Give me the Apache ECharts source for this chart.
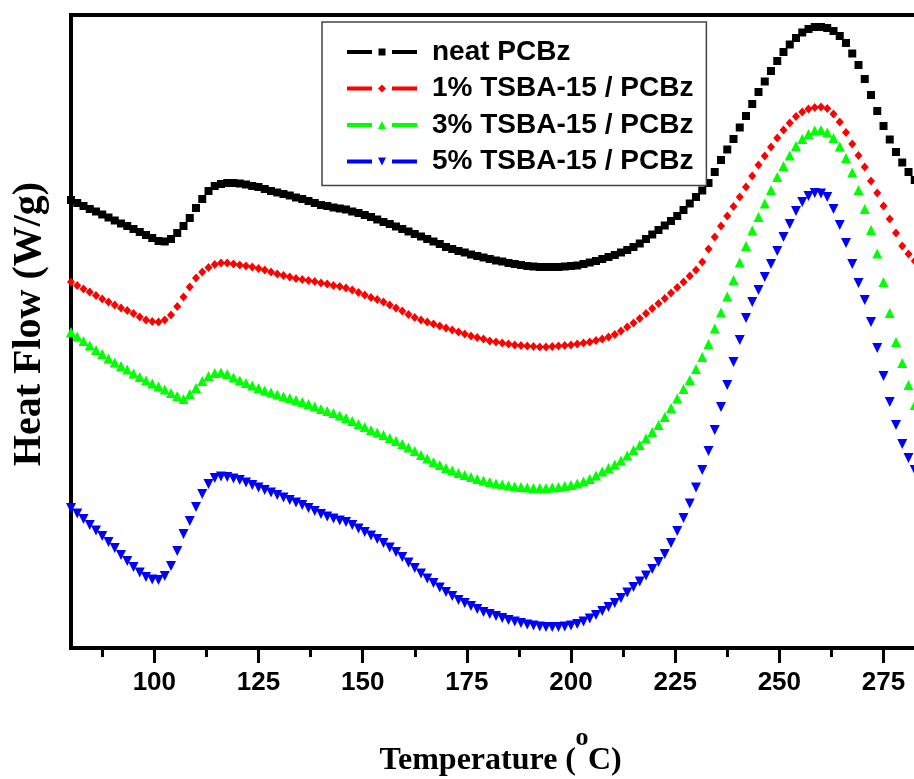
<!DOCTYPE html>
<html>
<head>
<meta charset="utf-8">
<script src="https://cdn.jsdelivr.net/npm/echarts@6/dist/echarts.min.js"></script>
<style>
html,body{margin:0;padding:0;background:#fff;}
#chart{width:914px;height:779px;}
</style>
</head>
<body>
<div id="chart"></div>
<script>
// Temperature (°C) sample points
var temps = [80,81.5,83,84.5,86,87.5,89,90.5,92,93.5,95,96.5,98,99.5,101,102.5,104,105.5,107,108.5,110,111.5,113,114.5,116,117.5,119,120.5,122,123.5,125,126.5,128,129.5,131,132.5,134,135.5,137,138.5,140,141.5,143,144.5,146,147.5,149,150.5,152,153.5,155,156.5,158,159.5,161,162.5,164,165.5,167,168.5,170,171.5,173,174.5,176,177.5,179,180.5,182,183.5,185,186.5,188,189.5,191,192.5,194,195.5,197,198.5,200,201.5,203,204.5,206,207.5,209,210.5,212,213.5,215,216.5,218,219.5,221,222.5,224,225.5,227,228.5,230,231.5,233,234.5,236,237.5,239,240.5,242,243.5,245,246.5,248,249.5,251,252.5,254,255.5,257,258.5,260,261.5,263,264.5,266,267.5,269,270.5,272,273.5,275,276.5,278,279.5,281,282.5];

// Heat flow (arbitrary units, curves offset)
var neatPCBz = [4.48,4.45,4.42,4.39,4.365,4.335,4.305,4.275,4.245,4.22,
4.19,4.16,4.13,4.10,4.07,4.065,4.09,4.15,4.22,4.30,
4.40,4.49,4.57,4.62,4.64,4.65,4.65,4.645,4.635,4.62,
4.61,4.59,4.57,4.555,4.54,4.525,4.505,4.49,4.47,4.45,
4.43,4.42,4.405,4.395,4.385,4.365,4.35,4.33,4.31,4.285,
4.26,4.24,4.215,4.19,4.165,4.14,4.115,4.09,4.065,4.04,
4.01,3.99,3.97,3.955,3.935,3.92,3.905,3.89,3.875,3.865,
3.85,3.84,3.83,3.82,3.815,3.81,3.81,3.81,3.81,3.815,
3.82,3.825,3.84,3.855,3.87,3.89,3.91,3.93,3.955,3.98,
4.01,4.045,4.09,4.135,4.18,4.225,4.27,4.32,4.38,4.445,
4.51,4.575,4.65,4.76,4.88,4.985,5.09,5.205,5.32,5.44,
5.56,5.665,5.77,5.87,5.96,6.035,6.10,6.155,6.19,6.21,
6.21,6.20,6.17,6.12,6.05,5.945,5.83,5.69,5.53,5.37,
5.22,5.085,4.96,4.855,4.76,4.68];

var tsba1 = [3.66,3.625,3.59,3.56,3.525,3.49,3.46,3.43,3.40,3.375,
3.345,3.31,3.28,3.265,3.26,3.28,3.33,3.415,3.51,3.61,
3.70,3.76,3.805,3.835,3.85,3.85,3.84,3.83,3.82,3.81,
3.795,3.78,3.76,3.74,3.725,3.71,3.695,3.685,3.675,3.665,
3.65,3.64,3.625,3.615,3.60,3.58,3.555,3.53,3.505,3.485,
3.46,3.43,3.40,3.37,3.335,3.305,3.28,3.26,3.24,3.22,
3.20,3.18,3.16,3.14,3.12,3.105,3.09,3.07,3.06,3.05,
3.04,3.03,3.025,3.02,3.015,3.01,3.01,3.015,3.02,3.025,
3.03,3.04,3.05,3.06,3.075,3.09,3.11,3.135,3.17,3.21,
3.25,3.295,3.345,3.395,3.445,3.495,3.55,3.605,3.66,3.72,
3.78,3.86,3.99,4.11,4.22,4.32,4.415,4.51,4.61,4.72,
4.83,4.92,5.01,5.10,5.18,5.25,5.315,5.36,5.39,5.405,
5.41,5.395,5.34,5.26,5.155,5.04,4.925,4.81,4.67,4.55,
4.42,4.29,4.15,4.02,3.94,3.87];

var tsba3 = [3.16,3.115,3.07,3.025,2.98,2.94,2.895,2.855,2.82,2.785,
2.745,2.71,2.675,2.645,2.615,2.585,2.55,2.52,2.49,2.54,
2.60,2.67,2.72,2.75,2.755,2.74,2.705,2.675,2.65,2.625,
2.60,2.575,2.555,2.535,2.515,2.50,2.48,2.46,2.44,2.415,
2.39,2.37,2.35,2.325,2.30,2.27,2.24,2.21,2.18,2.155,
2.13,2.10,2.07,2.04,2.005,1.97,1.93,1.895,1.86,1.83,
1.80,1.775,1.75,1.73,1.71,1.69,1.675,1.66,1.645,1.635,
1.625,1.615,1.61,1.605,1.60,1.60,1.60,1.605,1.61,1.62,
1.63,1.645,1.665,1.69,1.725,1.765,1.80,1.835,1.875,1.925,
1.98,2.03,2.095,2.16,2.23,2.31,2.40,2.495,2.59,2.68,
2.79,2.91,3.04,3.195,3.355,3.515,3.68,3.855,4.02,4.175,
4.31,4.445,4.58,4.71,4.82,4.925,5.02,5.09,5.14,5.175,
5.18,5.155,5.10,5.015,4.90,4.755,4.58,4.39,4.18,3.945,
3.66,3.35,3.06,2.85,2.63,2.43];

var tsba5 = [1.40,1.345,1.29,1.23,1.175,1.12,1.06,1.00,0.93,0.87,
0.81,0.755,0.71,0.685,0.68,0.72,0.82,0.97,1.14,1.27,
1.41,1.54,1.64,1.70,1.715,1.71,1.695,1.68,1.655,1.63,
1.605,1.58,1.555,1.53,1.505,1.48,1.455,1.43,1.40,1.37,
1.34,1.315,1.295,1.275,1.26,1.23,1.195,1.16,1.125,1.09,
1.05,1.005,0.96,0.91,0.855,0.80,0.745,0.695,0.65,0.605,
0.56,0.52,0.48,0.45,0.42,0.39,0.36,0.34,0.32,0.30,
0.28,0.265,0.25,0.235,0.225,0.215,0.21,0.21,0.21,0.215,
0.225,0.24,0.265,0.295,0.33,0.37,0.41,0.45,0.50,0.555,
0.61,0.665,0.725,0.79,0.86,0.94,1.05,1.17,1.30,1.445,
1.605,1.78,1.97,2.18,2.41,2.63,2.86,3.08,3.30,3.46,
3.58,3.71,3.84,3.97,4.11,4.24,4.37,4.46,4.52,4.55,
4.545,4.51,4.39,4.23,4.05,3.84,3.65,3.48,3.26,3.00,
2.72,2.46,2.23,2.04,1.90,1.78];

var seriesNames = ['neat PCBz', '1% TSBA-15 / PCBz', '3% TSBA-15 / PCBz', '5% TSBA-15 / PCBz'];
var majorTicks = [100,125,150,175,200,225,250,275];
var minorTicks = [87.5,112.5,137.5,162.5,187.5,212.5,237.5,262.5,287.5];

function pairs(vals){ return temps.map(function(t,i){ return [t, vals[i]]; }); }

var legendIcons = [
  'path://M0,3h25v4h-25z M31.5,1.5h7v7h-7z M45,3h25v4h-25z',
  'path://M0,3h25v4h-25z M35,1L39,5L35,9L31,5z M45,3h25v4h-25z',
  'path://M0,3h25v4h-25z M35,1L39,9L31,9z M45,3h25v4h-25z',
  'path://M0,3h25v4h-25z M31,1L39,1L35,9z M45,3h25v4h-25z'
];

var chart = echarts.init(document.getElementById('chart'), null, {renderer:'canvas'});
var sans = '"Liberation Sans", Arial, sans-serif';
var serif = '"Liberation Serif", "Times New Roman", serif';

function mkSeries(name, vals, color, symbol, size, rotate){
  return {
    name: name, type: 'line', data: pairs(vals),
    xAxisIndex: 0, yAxisIndex: 0,
    symbol: symbol, symbolSize: size, symbolRotate: rotate || 0,
    showSymbol: true, showAllSymbol: true,
    lineStyle: {width: 0, opacity: 0},
    itemStyle: {color: color, borderWidth: 0},
    emphasis: {disabled: true},
    animation: false, silent: true, clip: true
  };
}

var option = {
  animation: false,
  backgroundColor: '#ffffff',
  grid: {
    left: 71, top: 15, bottom: 131, right: -32,
    containLabel: false, outerBoundsMode: 'none',
    show: true, borderColor: '#000', borderWidth: 4, backgroundColor: 'transparent'
  },
  xAxis: [{
    type: 'value', min: 80, max: 290, position: 'bottom',
    axisLine: {show: true, onZero: false, lineStyle: {color: '#000', width: 4}},
    axisTick: {show: true, customValues: majorTicks, length: 15, inside: false, lineStyle: {color: '#000', width: 3}},
    axisLabel: {show: true, customValues: majorTicks, margin: 22, color: '#000', fontSize: 26, fontWeight: 'bold', fontFamily: sans},
    splitLine: {show: false}
  }, {
    type: 'value', min: 80, max: 290, position: 'bottom', gridIndex: 0,
    axisLine: {show: false, onZero: false},
    axisTick: {show: true, customValues: minorTicks, length: 9, lineStyle: {color: '#000', width: 3}},
    axisLabel: {show: false},
    splitLine: {show: false}
  }],
  yAxis: {
    type: 'value', min: 0, max: 6.33,
    axisLine: {show: true, onZero: false, lineStyle: {color: '#000', width: 4}},
    axisTick: {show: false}, axisLabel: {show: false}, splitLine: {show: false}
  },
  legend: {
    orient: 'vertical', left: 322, top: 22,
    padding: [16, 13, 10, 25],
    itemGap: 8.5, itemWidth: 70, itemHeight: 8,
    borderColor: '#444', borderWidth: 1.5, backgroundColor: '#fff',
    selectedMode: false,
    textStyle: {color: '#000', fontSize: 28, fontWeight: 'bold', fontFamily: sans, lineHeight: 28, padding: [0,0,0,10]},
    data: seriesNames.map(function(n,i){ return {name: n, icon: legendIcons[i]}; })
  },
  graphic: [
    {type: 'text', x: 30, y: 324, rotation: Math.PI/2,
     style: {text: 'Heat Flow (W/g)', fill: '#000', font: 'bold 40px ' + serif, textAlign: 'center', textVerticalAlign: 'middle'}},
    {type: 'text', x: 576, y: 761,
     style: {text: 'Temperature (', fill: '#000', font: 'bold 32px ' + serif, textAlign: 'right', textVerticalAlign: 'middle'}},
    {type: 'text', x: 588, y: 761,
     style: {text: 'C)', fill: '#000', font: 'bold 32px ' + serif, textAlign: 'left', textVerticalAlign: 'middle'}},
    {type: 'text', x: 582, y: 738,
     style: {text: 'o', fill: '#000', font: 'bold 26px ' + serif, textAlign: 'center', textVerticalAlign: 'middle'}}
  ],
  series: [
    mkSeries(seriesNames[0], neatPCBz, '#000000', 'rect', 8),
    mkSeries(seriesNames[1], tsba1, '#ff0000', 'diamond', [8,9]),
    mkSeries(seriesNames[2], tsba3, '#00ff00', 'triangle', 10),
    mkSeries(seriesNames[3], tsba5, '#0000ff', 'triangle', 10, 180)
  ]
};
chart.setOption(option);
</script>
</body>
</html>
